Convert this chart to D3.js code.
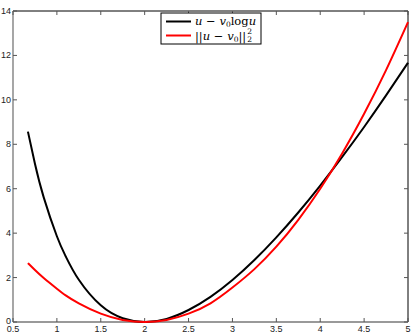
<!DOCTYPE html>
<html><head><meta charset="utf-8">
<script src="https://cdn.jsdelivr.net/npm/d3@7"></script>
<style>body{margin:0;background:#fff}svg{display:block}</style>
</head><body><svg id="c" width="415" height="333"></svg>
<script>
const uValues = [0.67,0.75,0.85,1.0,1.1,1.25,1.5,1.75,2.0,2.25,2.5,2.75,3.0,3.25,3.5,3.75,4.0,4.25,4.5,4.75,5.0];
const logSeries = [8.57,7.12,5.61,3.86,2.96,1.90,0.75,0.17,0,0.14,0.54,1.13,1.89,2.79,3.81,4.93,6.14,7.43,8.78,10.20,11.67];
const sqSeries = [2.65,2.34,1.98,1.5,1.2,0.84,0.375,0.094,0,0.094,0.375,0.84,1.55,2.38,3.39,4.6,6.0,7.59,9.375,11.34,13.5];
const xTicks = [0.5,1,1.5,2,2.5,3,3.5,4,4.5,5];
const yTicks = [0,2,4,6,8,10,12,14];

const svg = d3.select("#c");
const L=13,R=408,T=11,B=322;
const x = d3.scaleLinear().domain([0.5,5]).range([L,R]);
const y = d3.scaleLinear().domain([0,14]).range([B,T]);
const font = "Liberation Sans, Arial, sans-serif";

const g = svg.append("g");
g.append("line").attr("x1",L).attr("x2",R).attr("y1",T).attr("y2",T).attr("stroke","#000");
g.append("line").attr("x1",R).attr("x2",R).attr("y1",T).attr("y2",B).attr("stroke","#000");
g.append("line").attr("x1",L).attr("x2",R).attr("y1",B).attr("y2",B).attr("stroke","#777").attr("stroke-width",1.3);
g.append("line").attr("x1",L).attr("x2",L).attr("y1",T).attr("y2",B).attr("stroke","#777").attr("stroke-width",1.3);

xTicks.forEach(t=>{
  g.append("line").attr("x1",x(t)).attr("x2",x(t)).attr("y1",B).attr("y2",B-4).attr("stroke","#555");
  g.append("line").attr("x1",x(t)).attr("x2",x(t)).attr("y1",T).attr("y2",T+4).attr("stroke","#555");
  g.append("text").attr("x",x(t)).attr("y",B+10).attr("text-anchor","middle")
    .attr("font-family",font).attr("font-size",9).attr("fill","#222").text(t);
});
yTicks.forEach(t=>{
  g.append("line").attr("x1",L).attr("x2",L+4).attr("y1",y(t)).attr("y2",y(t)).attr("stroke","#555");
  g.append("line").attr("x1",R).attr("x2",R-4).attr("y1",y(t)).attr("y2",y(t)).attr("stroke","#555");
  g.append("text").attr("x",L-2).attr("y",y(t)+(t===0?1.5:3)).attr("text-anchor","end")
    .attr("font-family",font).attr("font-size",9).attr("fill","#222").text(t);
});

const line = d3.line().x((d,i)=>x(uValues[i])).y(d=>y(d)).curve(d3.curveNatural);
svg.append("path").datum(logSeries).attr("d",line).attr("fill","none").attr("stroke","#000").attr("stroke-width",2);
svg.append("path").datum(sqSeries).attr("d",line).attr("fill","none").attr("stroke","#f00").attr("stroke-width",2);

// legend
const lg = svg.append("g");
lg.append("rect").attr("x",161).attr("y",13).attr("width",100).attr("height",31).attr("fill","#fff").attr("stroke","#000");
lg.append("line").attr("x1",166).attr("x2",191).attr("y1",21.5).attr("y2",21.5).attr("stroke","#000").attr("stroke-width",2);
lg.append("line").attr("x1",166).attr("x2",191).attr("y1",35.5).attr("y2",35.5).attr("stroke","#f00").attr("stroke-width",2);
const mf = "DejaVu Serif, serif";
const t1 = lg.append("text").attr("x",195).attr("y",25).attr("font-family",mf).attr("font-size",11.5).attr("fill","#000");
t1.append("tspan").attr("font-style","italic").text("u");
t1.append("tspan").text(" − ");
t1.append("tspan").attr("font-style","italic").text("v");
t1.append("tspan").attr("font-size",7.5).attr("dy",2).text("0");
t1.append("tspan").attr("dy",-2).text("log");
t1.append("tspan").attr("font-style","italic").text("u");
const t2 = lg.append("text").attr("x",195).attr("y",39.5).attr("font-family",mf).attr("font-size",11.5).attr("fill","#000");
t2.append("tspan").text("||");
t2.append("tspan").attr("font-style","italic").text("u");
t2.append("tspan").text(" − ");
t2.append("tspan").attr("font-style","italic").text("v");
t2.append("tspan").attr("font-size",7.5).attr("dy",2).text("0");
t2.append("tspan").attr("dy",-2).text("||");
const bb = t2.node().getBBox();
const ex = bb.x + bb.width + 1;
lg.append("text").attr("x",ex).attr("y",34).attr("font-family",mf).attr("font-size",7.5).text("2");
lg.append("text").attr("x",ex).attr("y",42).attr("font-family",mf).attr("font-size",7.5).text("2");
</script></body></html>
